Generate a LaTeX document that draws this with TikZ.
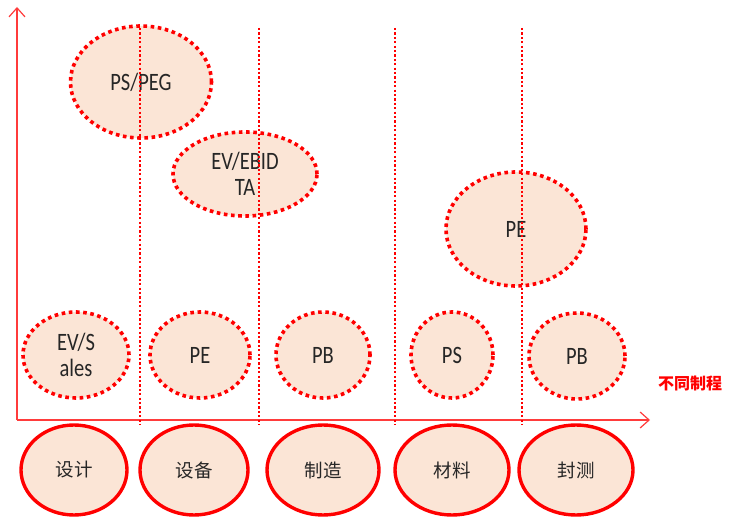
\documentclass[tikz,border=0pt]{standalone}
\usepackage{fontspec}
\setmainfont{Carlito}
\newfontfamily\cjk{Noto Sans CJK SC}
\usetikzlibrary{shapes.geometric,arrows.meta}
\definecolor{peach}{HTML}{FBE5D6}
\definecolor{axisred}{HTML}{FF3B3B}
\newcommand\vstr[1]{\scalebox{1}[1.22]{#1}}
\begin{document}
\begin{tikzpicture}[x=1pt,y=-1pt,
  dotell/.style={ellipse,draw=red,fill=peach,line width=3.6pt,dash pattern=on 3.6pt off 3.6pt,inner sep=0pt,font=\fontsize{20.5}{26}\selectfont,align=center,text=black!85},
  solell/.style={ellipse,draw=red,fill=peach,line width=3.4pt,inner sep=0pt,font=\cjk\fontsize{18.5}{22}\selectfont,text=black!85},
  sepline/.style={draw=red,line width=2pt,dash pattern=on 2.2pt off 2.2pt},
  axisline/.style={draw=axisred,line width=1.4pt,-{Straight Barb[length=9pt,width=16pt,line width=1.2pt]}}]
\useasboundingbox (0,0) rectangle (734,521);
% top ellipses
\node[dotell,minimum width=141pt,minimum height=112pt] (pspeg) at (141,82) {\vstr{PS/PEG}};
\node[dotell,minimum width=144pt,minimum height=84pt] (evebidta) at (245,174) {\vstr{EV/EBID}\\\vstr{TA}};
\node[dotell,minimum width=140pt,minimum height=114pt] (pebig) at (516,229) {\vstr{PE}};
% lower ellipses
\node[dotell,minimum width=106pt,minimum height=86pt] (evsales) at (76,355) {\vstr{EV/S}\\\vstr{ales}};
\node[dotell,minimum width=100pt,minimum height=86pt] (pe) at (200,355) {\vstr{PE}};
\node[dotell,minimum width=94pt,minimum height=86pt] (pb1) at (323,355) {\vstr{PB}};
\node[dotell,minimum width=82pt,minimum height=86pt] (ps) at (452,355) {\vstr{PS}};
\node[dotell,minimum width=96pt,minimum height=86pt] (pb2) at (577,356) {\vstr{PB}};
% axes
\coordinate (O) at (17,420);
\coordinate (ytip) at (17,7);
\coordinate (xtip) at (650,420);
\draw[axisline] (O) -- (ytip);
\draw[axisline] (O) -- (xtip);
% separators
\foreach \i/\x in {1/140,2/259,3/395,4/522}{
  \coordinate (s\i t) at (\x,28);
  \coordinate (s\i b) at (\x,425);
  \draw[sepline] (s\i t) -- (s\i b);
}
% bottom stage ellipses
\node[solell,minimum width=106pt,minimum height=90pt] (sheji) at (74,470) {设计};
\node[solell,minimum width=108pt,minimum height=90pt] (shebei) at (194,470) {设备};
\node[solell,minimum width=112pt,minimum height=90pt] (zhizao) at (323,470) {制造};
\node[solell,minimum width=114pt,minimum height=90pt] (cailiao) at (452,470) {材料};
\node[solell,minimum width=114pt,minimum height=90pt] (fengce) at (576,470) {封测};
% axis label
\node[text=red,font=\cjk\bfseries\fontsize{16}{18}\selectfont] (lbl) at (690,383) {不同制程};
\end{tikzpicture}
\end{document}
